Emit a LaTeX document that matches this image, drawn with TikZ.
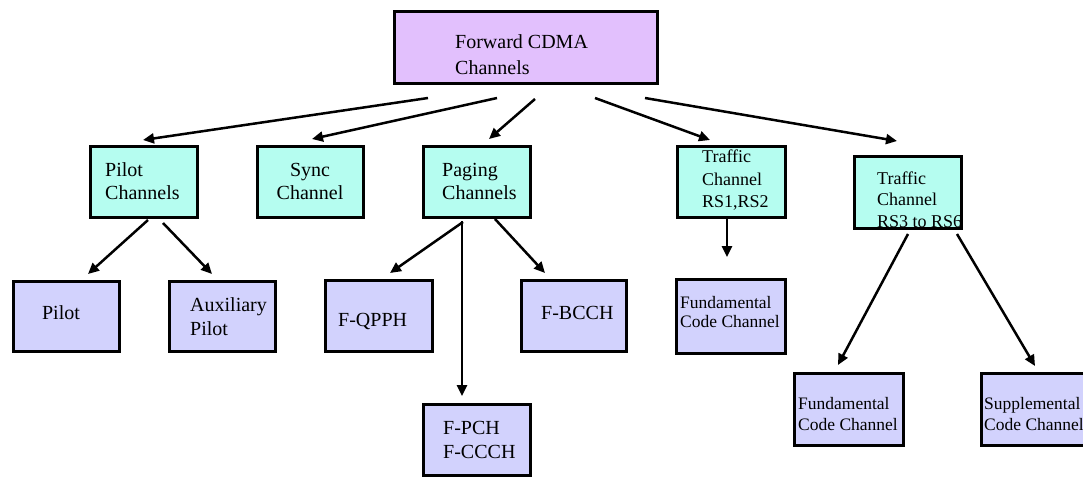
\documentclass[tikz,border=0pt]{standalone}
\usepackage{fontspec}
\setmainfont{Liberation Serif}
\usetikzlibrary{arrows.meta}
\definecolor{rootfill}{HTML}{E2C0FD}
\definecolor{midfill}{HTML}{B5FDF0}
\definecolor{leaffill}{HTML}{D2D2FD}
\begin{document}
\begin{tikzpicture}[x=1pt,y=-1pt,
  box/.style={draw=black,line width=2.8pt,rectangle,inner sep=0pt,
    minimum width=107.2pt,minimum height=71.2pt},
  rootbox/.style={box,fill=rootfill,minimum width=263.2pt,minimum height=72.2pt},
  midbox/.style={box,fill=midfill},
  leafbox/.style={box,fill=leaffill},
  txt/.style={inner sep=0pt,align=left,anchor=west,text=black,
    font=\rmfamily\fontsize{20}{25}\selectfont},
  small/.style={txt,font=\rmfamily\fontsize{17.5}{21.5}\selectfont},
  arr/.style={line width=2.5pt,-{Triangle[length=11pt,width=10pt]}}]
\useasboundingbox[fill=white] (0,0) rectangle (1083,477);

% boxes
\node[rootbox] (top) at (526,47.5) {};
\node[midbox] (pc) at (144,182) {};
\node[midbox,minimum width=106.2pt] (sync) at (310.5,182) {};
\node[midbox] (paging) at (477,182) {};
\node[midbox,minimum width=108.2pt] (rs12) at (731.5,182) {};
\node[midbox,minimum height=72.2pt] (rs36) at (908,192.5) {};
\node[leafbox,minimum width=106.2pt,minimum height=70.2pt] (pilot) at (66.5,316.5) {};
\node[leafbox,minimum width=106.2pt,minimum height=70.2pt] (aux) at (222.5,316.5) {};
\node[leafbox] (qpph) at (379,316) {};
\node[leafbox,minimum width=105.2pt] (bcch) at (574,316) {};
\node[leafbox] (pch) at (477,440) {};
\node[leafbox,minimum width=109.2pt,minimum height=74.2pt] (fund1) at (731,316.5) {};
\node[leafbox,minimum width=109.2pt,minimum height=72.2pt] (fund2) at (849,409.5) {};
\node[leafbox,minimum width=109.2pt,minimum height=72.2pt] (supp) at (1036,409.5) {};

% labels
\node[txt,font=\rmfamily\fontsize{20}{26}\selectfont] (ttop) at (455,55) {Forward CDMA\\Channels};
\node[txt,font=\rmfamily\fontsize{20}{23}\selectfont] (tpc) at (105,181.5) {Pilot\\Channels};
\node[txt,anchor=center,align=center,font=\rmfamily\fontsize{20}{23}\selectfont] (tsync) at (310,181.5) {Sync\\Channel};
\node[txt,font=\rmfamily\fontsize{20}{23}\selectfont] (tpaging) at (442,181.5) {Paging\\Channels};
\node[txt,font=\rmfamily\fontsize{18}{22.5}\selectfont] (trs12) at (702,180.5) {Traffic\\Channel\\RS1,RS2};
\node[txt,font=\rmfamily\fontsize{18}{21.5}\selectfont] (trs36) at (877,199.5) {Traffic\\Channel\\RS3 to RS6};
\node[txt,anchor=center] (tpilot) at (61,313) {Pilot};
\node[txt,font=\rmfamily\fontsize{20}{24}\selectfont] (taux) at (190,317) {Auxiliary\\Pilot};
\node[txt] (tqpph) at (338,321) {F-QPPH};
\node[txt] (tbcch) at (541,313) {F-BCCH};
\node[txt,font=\rmfamily\fontsize{20}{24}\selectfont] (tpch) at (443,440) {F-PCH\\F-CCCH};
\node[small,font=\rmfamily\fontsize{17.5}{19}\selectfont] (tfund1) at (680,312) {Fundamental\\Code Channel};
\node[small] (tfund2) at (798,414) {Fundamental\\Code Channel};
\node[small] (tsupp) at (984,414) {Supplemental\\Code Channel};

% starting points of the arrows leaving the root box
\coordinate (s1) at (428,98);
\coordinate (s2) at (497,98);
\coordinate (s3) at (535,99);
\coordinate (s4) at (595,98);
\coordinate (s5) at (645,98);

% connectors
\draw[arr] (s1) -- ([xshift=-1pt,yshift=5pt]pc.north);
\draw[arr] (s2) -- ([xshift=1.5pt,yshift=6pt]sync.north);
\draw[arr] (s3) -- ([xshift=12pt,yshift=6pt]paging.north);
\draw[arr] (s4) -- ([xshift=-21.5pt,yshift=5pt]rs12.north);
\draw[arr] (s5) -- ([xshift=-11pt,yshift=14pt]rs36.north);

\draw[arr] ([xshift=4pt,yshift=-1pt]pc.south) -- ([xshift=21.5pt,yshift=6pt]pilot.north);
\draw[arr] ([xshift=19pt,yshift=-4pt]pc.south) -- ([xshift=-10.5pt,yshift=6pt]aux.north);

\draw[arr] ([xshift=-14pt,yshift=-3pt]paging.south) -- ([xshift=11pt,yshift=6pt]qpph.north);
\draw[arr] ([xshift=18pt]paging.south) -- ([xshift=-29pt,yshift=6pt]bcch.north);
\draw[arr] ([xshift=-15pt,yshift=-2pt]paging.south) -- ([xshift=-15pt,yshift=7pt]pch.north);

\draw[arr] ([xshift=-4.5pt]rs12.south) -- ([xshift=-4pt,yshift=21pt]fund1.north);

\draw[arr] ([yshift=-4pt]rs36.south) -- ([xshift=-11pt,yshift=7pt]fund2.north);
\draw[arr] ([xshift=49pt,yshift=-4pt]rs36.south) -- ([xshift=-1pt,yshift=6pt]supp.north);
\end{tikzpicture}
\end{document}
